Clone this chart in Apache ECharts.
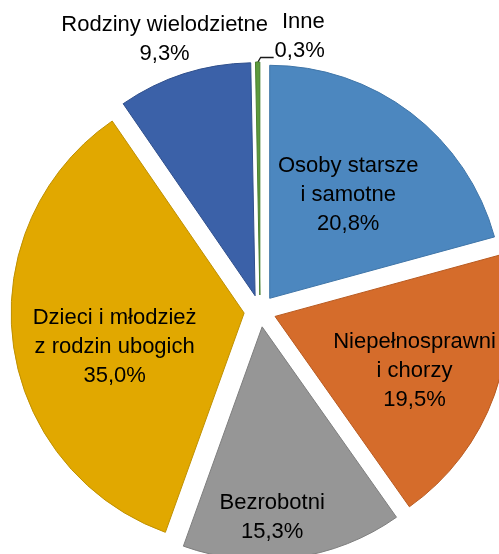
<!DOCTYPE html>
<html>
<head>
<meta charset="utf-8">
<script src="https://cdn.jsdelivr.net/npm/echarts@6/dist/echarts.min.js"></script>
<style>
  html, body { margin: 0; padding: 0; background: #fff; }
  #chart { width: 499px; height: 554px; }
</style>
</head>
<body>
<div id="chart"></div>
<script>
// Beneficiary groups (share of all recipients, %)
const categories = [
  'Osoby starsze\ni samotne',
  'Niepełnosprawni\ni chorzy',
  'Bezrobotni',
  'Dzieci i młodzież\nz rodzin ubogich',
  'Rodziny wielodzietne',
  'Inne'
];
const shares = [20.8, 19.5, 15.3, 35.0, 9.3, 0.3];

const fills   = ['#4C87BF', '#D56C2B', '#969696', '#E1A800', '#3B61A8', '#5C9A3C'];
const borders = ['#3F75A8', '#B85A20', '#7E7E7E', '#BF9000', '#2F4F8C', '#4A7F30'];

// Label nudges relative to the library's default label anchor
const labelShift = [[6, -8], [27, 14], [-6, 72], [-11, 19], [-54, -143]];

const fmt = v => v.toFixed(1).replace('.', ',') + '%';

const data = categories.map((name, i) => {
  const style = { color: fills[i], borderColor: borders[i], borderWidth: 1 };
  const item = {
    name: name,
    value: shares[i],
    selected: true,
    itemStyle: style,
    select: { itemStyle: style }
  };
  if (i === 5) {
    item.label = { position: 'outside' };
    item.labelLine = { show: true, length: 6, length2: 10 };
  }
  return item;
});

// The thin "Inne" sliver gets a callout placed relative to its own tip
function placeLabel(p) {
  if (p.dataIndex < labelShift.length) {
    return { dx: labelShift[p.dataIndex][0], dy: labelShift[p.dataIndex][1] };
  }
  const sx = p.rect.x + p.rect.width / 2;
  const sy = p.rect.y + 1;
  const lr = p.labelRect;
  return {
    dx: sx + 42 - (lr.x + lr.width / 2),
    dy: sy - 26 - (lr.y + lr.height / 2),
    labelLinePoints: [[sx, sy], [sx + 3, sy - 5], [sx + 16, sy - 5]]
  };
}

const chart = echarts.init(document.getElementById('chart'), null, { renderer: 'canvas' });
chart.setOption({
  animation: false,
  series: [{
    type: 'pie',
    center: [260, 311],
    radius: 233,
    startAngle: 90,
    clockwise: true,
    selectedMode: 'multiple',
    selectedOffset: 16,
    avoidLabelOverlap: false,
    emphasis: { disabled: true },
    label: {
      show: true,
      position: 'inside',
      formatter: p => p.name + '\n' + fmt(p.value),
      fontFamily: 'Liberation Sans',
      fontSize: 22,
      lineHeight: 29,
      color: '#000',
      align: 'center'
    },
    labelLine: { show: false, lineStyle: { color: '#1a1a1a', width: 1.3 } },
    labelLayout: placeLabel,
    data: data
  }]
});
</script>
</body>
</html>
